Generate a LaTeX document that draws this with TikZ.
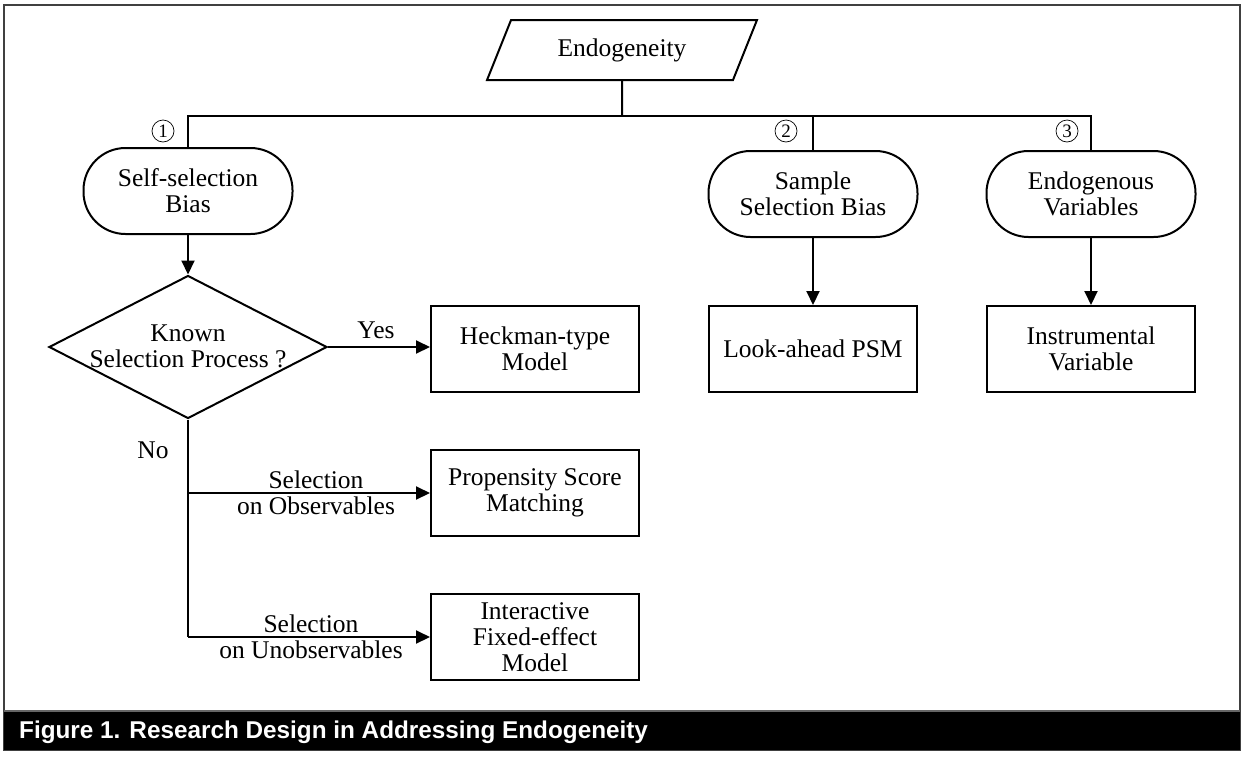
\documentclass[tikz,border=0pt]{standalone}
\usepackage{fontspec}
\setmainfont{Liberation Serif}
\newfontfamily\capfont{Liberation Sans}
\usetikzlibrary{shapes.geometric,shapes.misc,arrows.meta}
\begin{document}
\begin{tikzpicture}[x=1pt,y=-1pt,
  every node/.style={font=\fontsize{25.5}{26}\selectfont, align=center},
  ln/.style={line width=2pt},
  arr/.style={line width=2pt, -{Triangle[length=14pt,width=13pt]}},
  boxnode/.style={draw, line width=2pt, rectangle, minimum width=208pt, minimum height=86pt, inner sep=0pt},
  pill/.style={draw, line width=2pt, rectangle, rounded corners=42pt, minimum width=209pt, minimum height=86pt, inner sep=0pt},
  lbl/.style={inner sep=0pt},
  num/.style={circle, draw, line width=0.7pt, minimum size=22pt, inner sep=0pt, font=\fontsize{19}{19}\selectfont}]
\useasboundingbox (0,0) rectangle (1245,756);
% frame
\fill[white] (0,0) rectangle (1245,756);
\draw[line width=2pt, black!75] (4,5) rectangle (1240,750);
\fill[black] (4,711) rectangle (1240,750);
\draw[line width=1.5pt, black!60] (4,711) -- (1240,711);
\node[lbl, anchor=west, text=white, font=\capfont\bfseries\fontsize{24.3}{26}\selectfont] (cap) at (19,732) {Figure 1. Research Design in Addressing Endogeneity};
% nodes
\node[draw, line width=2pt, trapezium, trapezium left angle=59, trapezium right angle=121, trapezium stretches=true, minimum width=270pt, minimum height=60pt, inner sep=0pt] (endo) at (622,50) {Endogeneity};
\node[pill] (self) at (188,191) {Self-selection\\Bias};
\node[pill] (samp) at (813,194) {Sample\\Selection Bias};
\node[pill] (envar) at (1091,194) {Endogenous\\Variables};
\node[draw, line width=2pt, diamond, minimum width=278pt, minimum height=143pt, inner sep=0pt, aspect=1.94] (dec) at (188,347) {};
\node[lbl] (dectext) at (188,346) {Known\\Selection Process ?};
\node[boxnode] (heck) at (535,349) {Heckman-type\\Model};
\node[boxnode] (prop) at (535,493) {Propensity Score\\Matching};
\node[boxnode] (inter) at (535,637) {Interactive\\Fixed-effect\\Model};
\node[boxnode] (look) at (813,349) {Look-ahead PSM};
\node[boxnode] (inst) at (1091,349) {Instrumental\\Variable};
% numbers
\node[num] (n1) at (163,131) {1};
\node[num] (n2) at (786,131) {2};
\node[num] (n3) at (1067,131) {3};
% top connectors
\coordinate (jn) at (622,116);
\draw[ln] (endo.south) -- (jn);
\draw[ln] (self.north) -- (self.north |- jn) -- (envar.north |- jn) -- (envar.north);
\draw[ln] (samp.north |- jn) -- (samp.north);
% arrows
\draw[arr] (self.south) -- (dec.north);
\draw[arr] (samp.south) -- (look.north);
\draw[arr] (envar.south) -- (inst.north);
\draw[arr] (dec.east) -- (heck.west |- dec.east);
\coordinate (nb) at (dec.south |- inter.west);
\draw[ln] (dec.south) -- (nb);
\draw[arr] (nb) -- (inter.west);
\draw[arr] (dec.south |- prop.west) -- (prop.west);
% labels
\node[lbl] (yes) at (376,330) {Yes};
\node[lbl] (no) at (153,450) {No};
\node[lbl] (obs) at (316,493) {Selection\\on Observables};
\node[lbl] (unobs) at (311,637) {Selection\\on Unobservables};
\end{tikzpicture}
\end{document}
